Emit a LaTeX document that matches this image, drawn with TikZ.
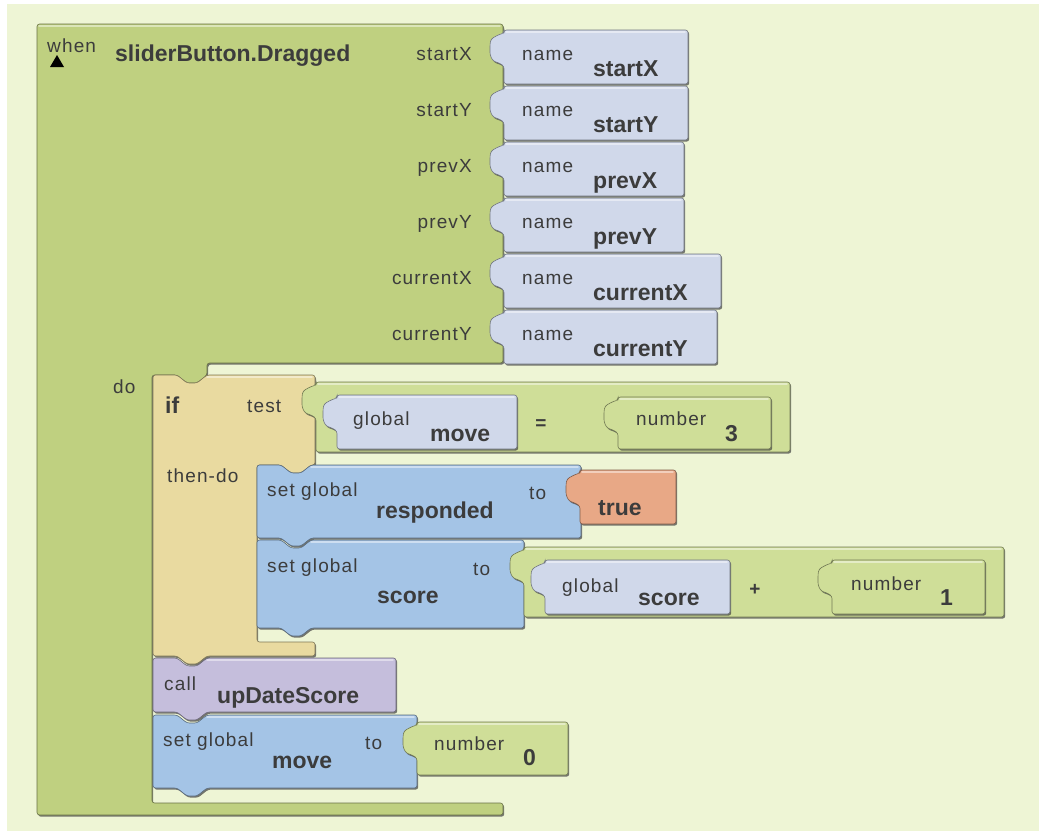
\documentclass[tikz,border=0pt]{standalone}
\usepackage{fontspec}
\setmainfont{Liberation Sans}
\newfontfamily\lblfont[LetterSpace=6]{Liberation Sans}
\usetikzlibrary{shadows}

\definecolor{bg}{HTML}{EEF5D5}
\definecolor{evgreen}{HTML}{BFD080}
\definecolor{mathgreen}{HTML}{CFDE98}
\definecolor{namegray}{HTML}{D0D8EA}
\definecolor{setblue}{HTML}{A4C4E6}
\definecolor{ifyellow}{HTML}{E9DAA0}
\definecolor{logicorange}{HTML}{E8A886}
\definecolor{callpurple}{HTML}{C5BEDC}
\definecolor{txt}{HTML}{3C3C3C}

\tikzset{
  block/.style={rounded corners=2.5pt, line width=0.6pt,
    drop shadow={shadow xshift=1.2pt, shadow yshift=-1.6pt, fill=black!75, opacity=.7}},
  shine/.style={white, opacity=.45, line width=1.6pt, line cap=round},
  lbl/.style={font=\lblfont\fontsize{19}{20}\selectfont, text=txt, inner sep=0pt, anchor=base west},
  val/.style={font=\bfseries\fontsize{23}{24}\selectfont, text=txt, inner sep=0pt, anchor=base west},
}

% value block with a plug on the left: colour, left, top, right, bottom
\newcommand{\valblock}[5]{%
  \filldraw[block, fill=#1, draw=#1!55!black] (#2,#3) -- (#4,#3) -- (#4,#5) -- (#2,#5)
    -- (#2,#3+36) -- (#2-5,#3+33) -- (#2-11,#3+31) -- (#2-14,#3+25) -- (#2-14,#3+14)
    -- (#2-13,#3+9) -- (#2-6,#3+5) -- (#2,#3+3) -- cycle;
  \draw[shine] (#2+2,#3+2) -- (#4-3,#3+2);}

% statement block with a notch on top and a tab below: colour, left, top, right, bottom
\newcommand{\stmtblock}[5]{%
  \filldraw[block, fill=#1, draw=#1!55!black] (#2,#3) -- (#2+24,#3) -- (#2+34,#3+8) -- (#2+44,#3+8)
    -- (#2+54,#3) -- (#4,#3) -- (#4,#5) -- (#2+54,#5) -- (#2+44,#5+8) -- (#2+34,#5+8)
    -- (#2+24,#5) -- (#2,#5) -- cycle;
  \draw[shine] (#2+54,#3+2) -- (#4-3,#3+2);}

\begin{document}
\begin{tikzpicture}[x=1pt, y=-1pt]
  % Background
  \useasboundingbox (0,0) rectangle (1039,835);
  \fill[bg] (7,4) rectangle (1039,831);

  % Event block
  \filldraw[block, fill=evgreen, draw=evgreen!55!black] (37,24) -- (503,24) -- (503,363) -- (207,363)
    -- (207,375) -- (197,383) -- (187,383) -- (177,375) -- (152,375) -- (152,803)
    -- (503,803) -- (503,815) -- (37,815) -- cycle;
  \draw[shine] (39,26) -- (500,26);
  \fill[black] (50,67) -- (64,67) -- (57,55) -- cycle;
  \node[lbl] (when) at (47,52) {when};
  \node[val] (event) at (115,61) {sliderButton.Dragged};
  \node[lbl] (do) at (113,393) {do};

  % Parameters
  \node[lbl, anchor=base east] (pStartX) at (472,60) {startX};
  \node[lbl, anchor=base east] (pStartY) at (472,116) {startY};
  \node[lbl, anchor=base east] (pPrevX) at (472,172) {prevX};
  \node[lbl, anchor=base east] (pPrevY) at (472,228) {prevY};
  \node[lbl, anchor=base east] (pCurrentX) at (472,284) {currentX};
  \node[lbl, anchor=base east] (pCurrentY) at (472,340) {currentY};

  \valblock{namegray}{504}{30}{688}{84}
  \node[lbl] (nStartX) at (522,60) {name};
  \node[val] (vStartX) at (593,76) {startX};
  \valblock{namegray}{504}{86}{688}{140}
  \node[lbl] (nStartY) at (522,116) {name};
  \node[val] (vStartY) at (593,132) {startY};
  \valblock{namegray}{504}{142}{684}{196}
  \node[lbl] (nPrevX) at (522,172) {name};
  \node[val] (vPrevX) at (593,188) {prevX};
  \valblock{namegray}{504}{198}{684}{252}
  \node[lbl] (nPrevY) at (522,228) {name};
  \node[val] (vPrevY) at (593,244) {prevY};
  \valblock{namegray}{504}{254}{721}{308}
  \node[lbl] (nCurrentX) at (522,284) {name};
  \node[val] (vCurrentX) at (593,300) {currentX};
  \valblock{namegray}{504}{310}{717}{364}
  \node[lbl] (nCurrentY) at (522,340) {name};
  \node[val] (vCurrentY) at (593,356) {currentY};

  % If block
  \filldraw[block, fill=ifyellow, draw=ifyellow!55!black] (153,375) -- (177,375) -- (187,383) -- (197,383)
    -- (207,375) -- (315,375) -- (315,465) -- (311,465) -- (301,473) -- (291,473) -- (281,465)
    -- (257,465) -- (257,642) -- (315,642) -- (315,656) -- (207,656) -- (197,664) -- (187,664)
    -- (177,656) -- (153,656) -- cycle;
  \draw[shine] (207,377) -- (312,377);
  \node[val] (if) at (165,413) {if};
  \node[lbl] (test) at (247,412) {test};
  \node[lbl] (thendo) at (167,482) {then-do};

  % Test: global move = number 3
  \valblock{mathgreen}{316}{382}{790}{452}
  \valblock{namegray}{337}{395}{517}{449}
  \node[lbl] (gMove) at (353,425) {global};
  \node[val] (vMove) at (430,441) {move};
  \node[lbl, anchor=center, font=\bfseries\fontsize{19}{20}\selectfont] (eq) at (541,425) {=};
  \valblock{mathgreen}{618}{397}{771}{449}
  \node[lbl] (nThree) at (636,425) {number};
  \node[val] (vThree) at (725,441) {3};

  % Set responded to true
  \stmtblock{setblue}{257}{465}{581}{538}
  \node[lbl] (sgResp) at (267,496) {set global};
  \node[lbl] (toResp) at (529,499) {to};
  \node[val] (vResp) at (376,518) {responded};
  \valblock{logicorange}{580}{470}{676}{524}
  \node[val] (vTrue) at (598,515) {true};

  % Set score to global score + number 1
  \stmtblock{setblue}{257}{540}{524}{628}
  \node[lbl] (sgScore) at (267,572) {set global};
  \node[lbl] (toScore) at (473,575) {to};
  \node[val] (vScore) at (377,603) {score};
  \valblock{mathgreen}{524}{547}{1004}{617}
  \valblock{namegray}{545}{560}{730}{614}
  \node[lbl] (gScore) at (562,592) {global};
  \node[val] (vgScore) at (638,605) {score};
  \node[lbl, anchor=center, font=\bfseries\fontsize{19}{20}\selectfont] (plus) at (755,590) {+};
  \valblock{mathgreen}{832}{560}{985}{614}
  \node[lbl] (nOne) at (851,590) {number};
  \node[val] (vOne) at (940,605) {1};

  % Call procedure
  \stmtblock{callpurple}{153}{658}{396}{712}
  \node[lbl] (call) at (164,690) {call};
  \node[val] (vCall) at (217,703) {upDateScore};

  % Set move to number 0
  \stmtblock{setblue}{153}{715}{417}{788}
  \node[lbl] (sgMove) at (163,746) {set global};
  \node[lbl] (toMove) at (365,749) {to};
  \node[val] (vgMove) at (272,768) {move};
  \valblock{mathgreen}{417}{722}{568}{775}
  \node[lbl] (nZero) at (434,750) {number};
  \node[val] (vZero) at (523,765) {0};
\end{tikzpicture}
\end{document}
